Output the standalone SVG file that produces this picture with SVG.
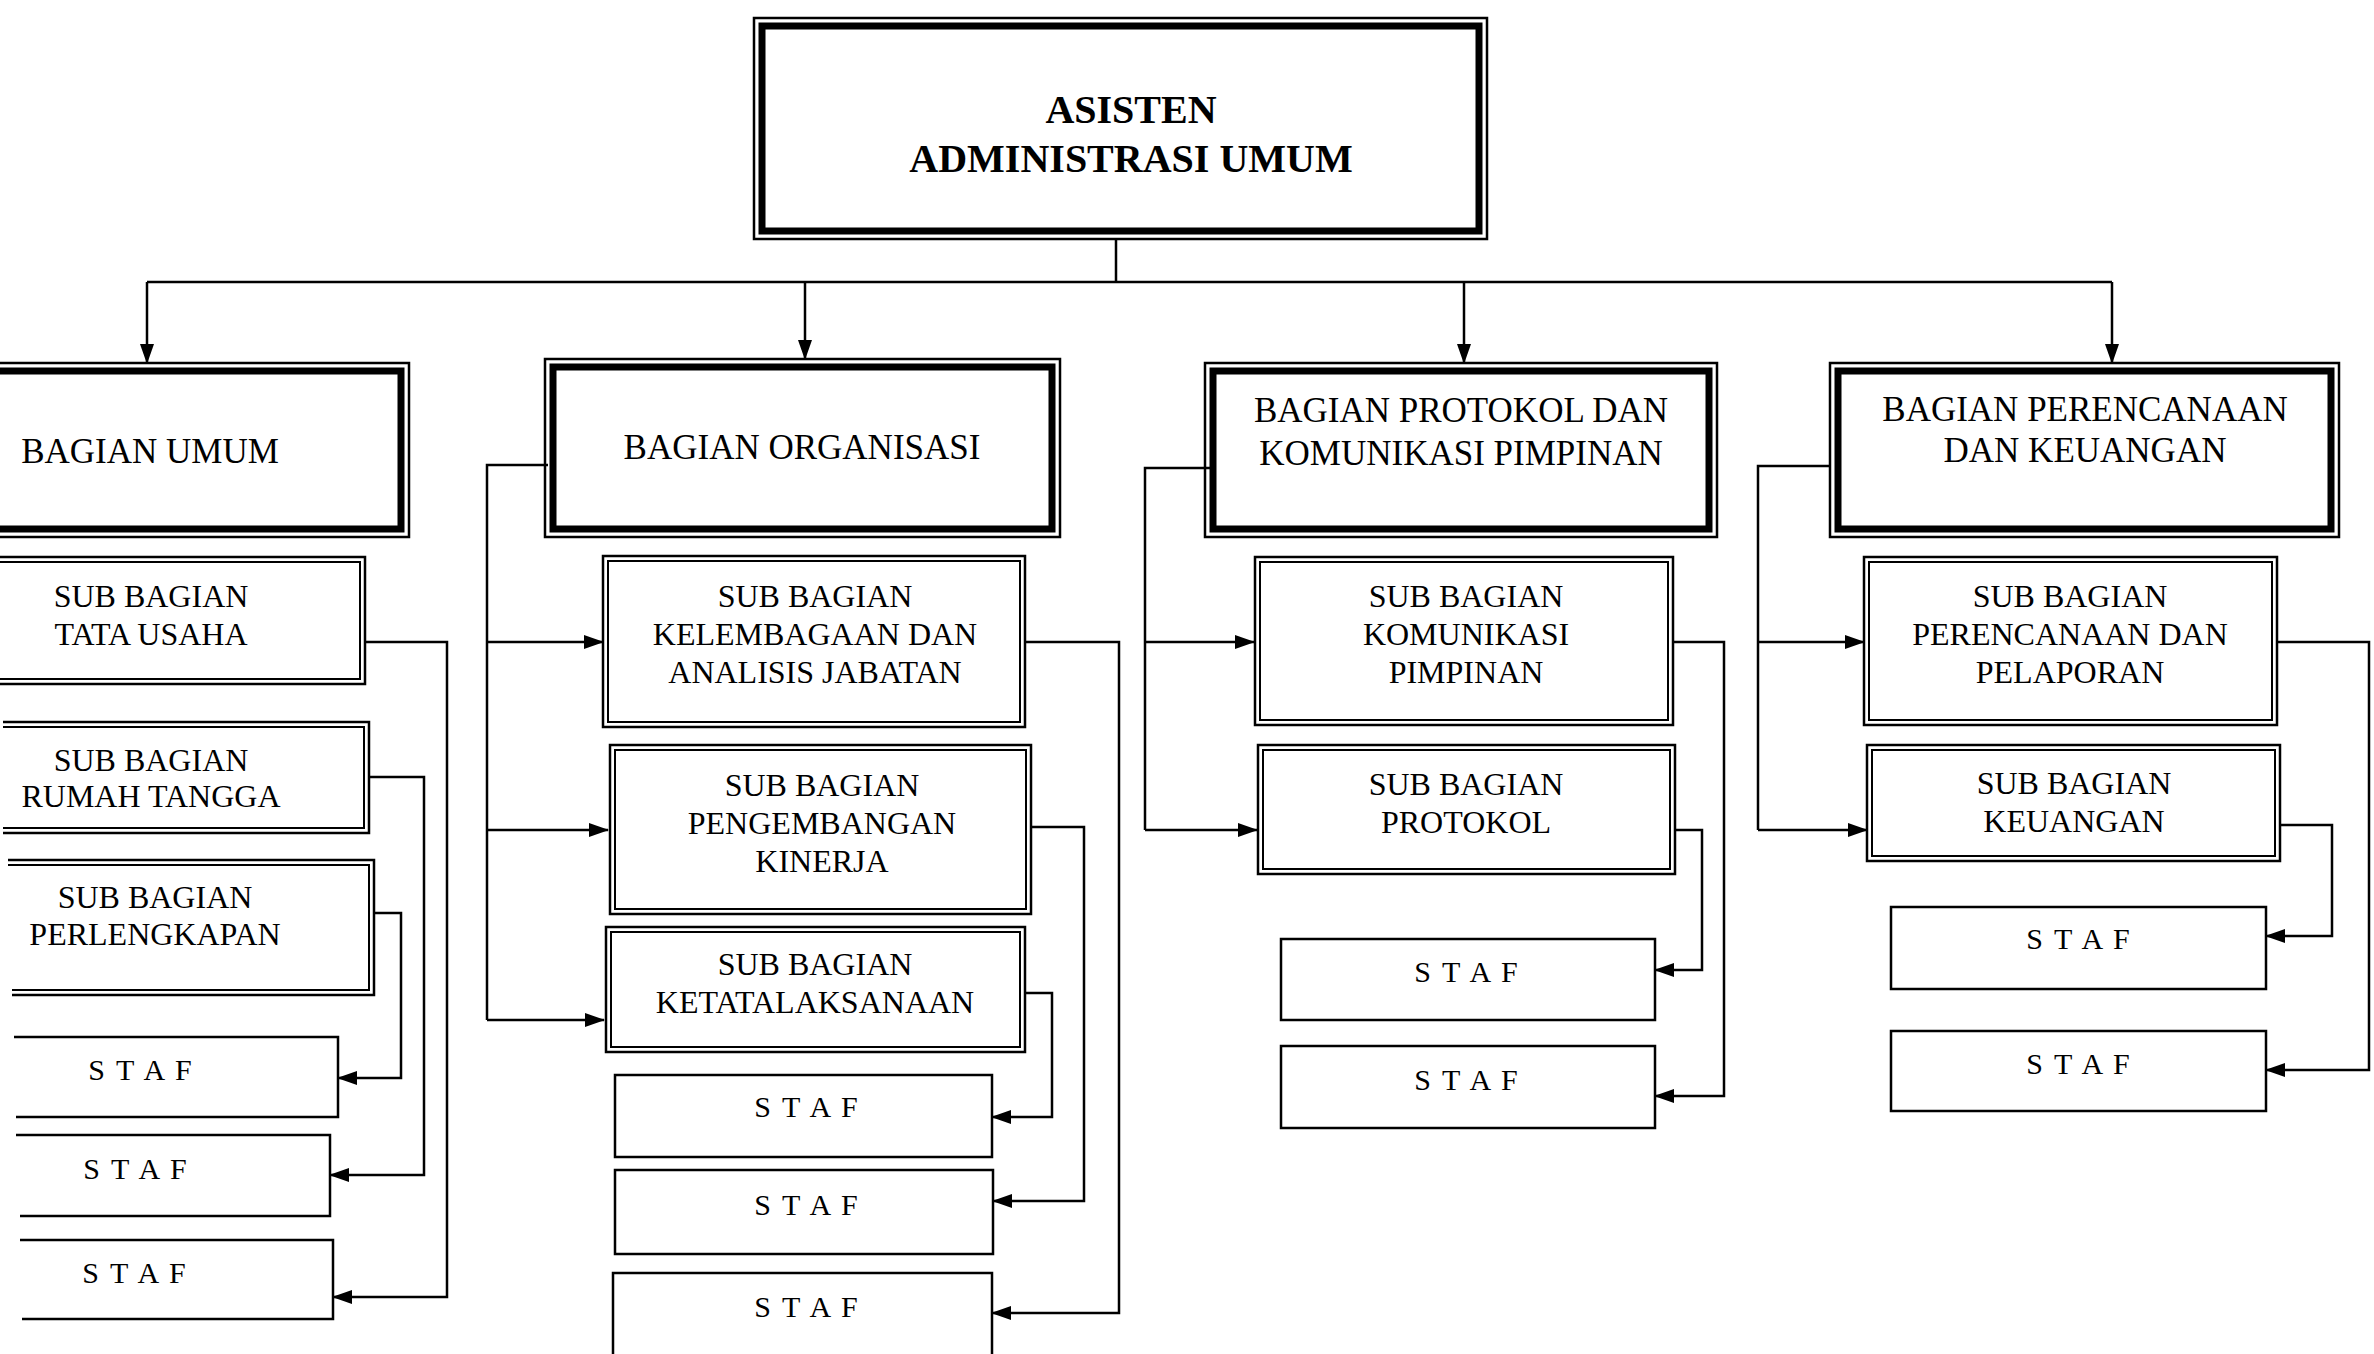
<svg xmlns="http://www.w3.org/2000/svg" width="2374" height="1354" viewBox="0 0 2374 1354">
<defs>
<marker id="ah" markerWidth="20" markerHeight="14" refX="19" refY="7" orient="auto" markerUnits="userSpaceOnUse"><path d="M0,0 L20,7 L0,14 z" fill="#000"/></marker>
</defs>
<style>
.t{font-family:"Liberation Serif","Times New Roman",serif;fill:#000;text-anchor:middle}
.title{font-size:40px;font-weight:bold}
.bag{font-size:35px}
.sub{font-size:32px}
.staf{font-size:30px;letter-spacing:2px}
.thin{fill:none;stroke:#000;stroke-width:2.5}
.thick{fill:none;stroke:#000;stroke-width:7}
.in{fill:none;stroke:#000;stroke-width:2}
.box{fill:#fff;stroke:#000;stroke-width:2.5}
.c{fill:none;stroke:#000;stroke-width:2.5}
</style>
<rect width="2374" height="1354" fill="#fff"/>

<g id="connectors">
<path class="c" d="M1116,239 V282 M147,282 H2112"/>
<path class="c" d="M147,282 V363" marker-end="url(#ah)"/>
<path class="c" d="M805,282 V359" marker-end="url(#ah)"/>
<path class="c" d="M1464,282 V363" marker-end="url(#ah)"/>
<path class="c" d="M2112,282 V363" marker-end="url(#ah)"/>
<path class="c" d="M365,642 H447 V1297 H333" marker-end="url(#ah)"/>
<path class="c" d="M369,777 H424 V1175 H330" marker-end="url(#ah)"/>
<path class="c" d="M374,913 H401 V1078 H338" marker-end="url(#ah)"/>
<path class="c" d="M548,465 H487 V1020"/>
<path class="c" d="M487,642 H603" marker-end="url(#ah)"/>
<path class="c" d="M487,830 H608" marker-end="url(#ah)"/>
<path class="c" d="M487,1020 H604" marker-end="url(#ah)"/>
<path class="c" d="M1025,642 H1119 V1313 H992" marker-end="url(#ah)"/>
<path class="c" d="M1031,827 H1084 V1201 H993" marker-end="url(#ah)"/>
<path class="c" d="M1025,993 H1052 V1117 H992" marker-end="url(#ah)"/>
<path class="c" d="M1211,468 H1145 V830"/>
<path class="c" d="M1145,642 H1254" marker-end="url(#ah)"/>
<path class="c" d="M1145,830 H1257" marker-end="url(#ah)"/>
<path class="c" d="M1673,642 H1724 V1096 H1655" marker-end="url(#ah)"/>
<path class="c" d="M1675,830 H1702 V970 H1655" marker-end="url(#ah)"/>
<path class="c" d="M1829,466 H1758 V830"/>
<path class="c" d="M1758,642 H1864" marker-end="url(#ah)"/>
<path class="c" d="M1758,830 H1867" marker-end="url(#ah)"/>
<path class="c" d="M2277,642 H2369 V1070 H2266" marker-end="url(#ah)"/>
<path class="c" d="M2280,825 H2332 V936 H2266" marker-end="url(#ah)"/>
</g>

<g id="asisten">
<rect class="thin" x="754" y="18" width="733" height="221"/>
<rect class="thick" x="762" y="26" width="717" height="205"/>
<text class="t title" x="1131" y="123">ASISTEN</text>
<text class="t title" x="1131" y="172">ADMINISTRASI UMUM</text>
</g>

<g id="bagian-umum">
<rect class="thin" x="-20" y="363" width="429" height="174"/>
<rect class="thick" x="-12" y="371" width="413" height="158"/>
<text class="t bag" x="150" y="463">BAGIAN UMUM</text>
</g>
<g id="bagian-organisasi">
<rect class="thin" x="545" y="359" width="515" height="178"/>
<rect class="thick" x="553" y="367" width="499" height="162"/>
<text class="t bag" x="802" y="459">BAGIAN ORGANISASI</text>
</g>
<g id="bagian-protokol">
<rect class="thin" x="1205" y="363" width="512" height="174"/>
<rect class="thick" x="1213" y="371" width="496" height="158"/>
<text class="t bag" x="1461" y="422">BAGIAN PROTOKOL DAN</text>
<text class="t bag" x="1461" y="465">KOMUNIKASI PIMPINAN</text>
</g>
<g id="bagian-perencanaan">
<rect class="thin" x="1830" y="363" width="509" height="174"/>
<rect class="thick" x="1838" y="371" width="493" height="158"/>
<text class="t bag" x="2085" y="421">BAGIAN PERENCANAAN</text>
<text class="t bag" x="2085" y="462">DAN KEUANGAN</text>
</g>

<g id="sub-tata-usaha">
<rect class="thin" x="-20" y="557" width="385" height="127"/>
<rect class="in" x="-15" y="562" width="375" height="117"/>
<text class="t sub" x="151" y="607">SUB BAGIAN</text>
<text class="t sub" x="151" y="645">TATA USAHA</text>
</g>
<g id="sub-rumah-tangga">
<path class="thin" d="M3,722 H369 V833 H3"/>
<path class="in" d="M3,727 H364 V828 H3"/>
<text class="t sub" x="151" y="771">SUB BAGIAN</text>
<text class="t sub" x="151" y="807">RUMAH TANGGA</text>
</g>
<g id="sub-perlengkapan">
<path class="thin" d="M8,860 H374 V995 H12"/>
<path class="in" d="M8,865 H369 V990 H12"/>
<text class="t sub" x="155" y="908">SUB BAGIAN</text>
<text class="t sub" x="155" y="945">PERLENGKAPAN</text>
</g>
<g id="staf-1a">
<path class="box" d="M14,1037 H338 V1117 H16" fill="none"/>
<text class="t staf" x="141" y="1080">S T A F</text>
</g>
<g id="staf-1b">
<path class="box" d="M16,1135 H330 V1216 H20" fill="none"/>
<text class="t staf" x="136" y="1179">S T A F</text>
</g>
<g id="staf-1c">
<path class="box" d="M20,1240 H333 V1319 H22" fill="none"/>
<text class="t staf" x="135" y="1283">S T A F</text>
</g>

<g id="sub-kelembagaan">
<rect class="thin" x="603" y="556" width="422" height="171"/>
<rect class="in" x="608" y="561" width="412" height="161"/>
<text class="t sub" x="815" y="607">SUB BAGIAN</text>
<text class="t sub" x="815" y="645">KELEMBAGAAN DAN</text>
<text class="t sub" x="815" y="683">ANALISIS JABATAN</text>
</g>
<g id="sub-pengembangan">
<rect class="thin" x="610" y="745" width="421" height="169"/>
<rect class="in" x="615" y="750" width="411" height="159"/>
<text class="t sub" x="822" y="796">SUB BAGIAN</text>
<text class="t sub" x="822" y="834">PENGEMBANGAN</text>
<text class="t sub" x="822" y="872">KINERJA</text>
</g>
<g id="sub-ketatalaksanaan">
<rect class="thin" x="606" y="927" width="419" height="125"/>
<rect class="in" x="611" y="932" width="409" height="115"/>
<text class="t sub" x="815" y="975">SUB BAGIAN</text>
<text class="t sub" x="815" y="1013">KETATALAKSANAAN</text>
</g>
<g id="staf-2a">
<rect class="box" x="615" y="1075" width="377" height="82"/>
<text class="t staf" x="807" y="1117">S T A F</text>
</g>
<g id="staf-2b">
<rect class="box" x="615" y="1170" width="378" height="84"/>
<text class="t staf" x="807" y="1215">S T A F</text>
</g>
<g id="staf-2c">
<rect class="box" x="613" y="1273" width="379" height="100"/>
<text class="t staf" x="807" y="1317">S T A F</text>
</g>

<g id="sub-komunikasi">
<rect class="thin" x="1255" y="557" width="418" height="168"/>
<rect class="in" x="1260" y="562" width="408" height="158"/>
<text class="t sub" x="1466" y="607">SUB BAGIAN</text>
<text class="t sub" x="1466" y="645">KOMUNIKASI</text>
<text class="t sub" x="1466" y="683">PIMPINAN</text>
</g>
<g id="sub-protokol">
<rect class="thin" x="1258" y="745" width="417" height="129"/>
<rect class="in" x="1263" y="750" width="407" height="119"/>
<text class="t sub" x="1466" y="795">SUB BAGIAN</text>
<text class="t sub" x="1466" y="833">PROTOKOL</text>
</g>
<g id="staf-3a">
<rect class="box" x="1281" y="939" width="374" height="81"/>
<text class="t staf" x="1467" y="982">S T A F</text>
</g>
<g id="staf-3b">
<rect class="box" x="1281" y="1046" width="374" height="82"/>
<text class="t staf" x="1467" y="1090">S T A F</text>
</g>

<g id="sub-perencanaan">
<rect class="thin" x="1864" y="557" width="413" height="168"/>
<rect class="in" x="1869" y="562" width="403" height="158"/>
<text class="t sub" x="2070" y="607">SUB BAGIAN</text>
<text class="t sub" x="2070" y="645">PERENCANAAN DAN</text>
<text class="t sub" x="2070" y="683">PELAPORAN</text>
</g>
<g id="sub-keuangan">
<rect class="thin" x="1867" y="745" width="413" height="116"/>
<rect class="in" x="1872" y="750" width="403" height="106"/>
<text class="t sub" x="2074" y="794">SUB BAGIAN</text>
<text class="t sub" x="2074" y="832">KEUANGAN</text>
</g>
<g id="staf-4a">
<rect class="box" x="1891" y="907" width="375" height="82"/>
<text class="t staf" x="2079" y="949">S T A F</text>
</g>
<g id="staf-4b">
<rect class="box" x="1891" y="1031" width="375" height="80"/>
<text class="t staf" x="2079" y="1074">S T A F</text>
</g>
</svg>
